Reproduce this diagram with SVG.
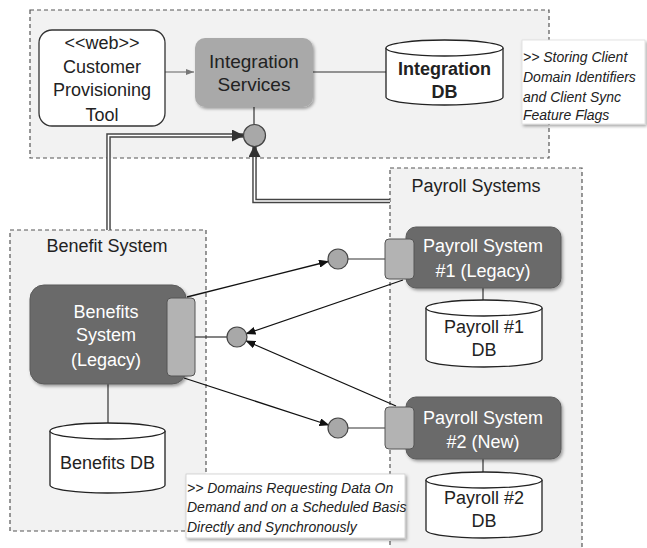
<svg xmlns="http://www.w3.org/2000/svg" width="647" height="548" viewBox="0 0 647 548">
<style>
text{font-family:"Liberation Sans",Arial,sans-serif;font-size:18px;text-anchor:middle;fill:#222}
.cont{fill:#f2f2f2;stroke:#555;stroke-width:1.2;stroke-dasharray:4,3}
.dark{fill:#6b6b6b;stroke:#5a5a5a;stroke-width:1}
.wt{fill:#fff}
.port{fill:#b3b3b3;stroke:#555;stroke-width:1}
.circ{fill:#a8a8a8;stroke:#444;stroke-width:1.2}
.db{fill:#fff;stroke:#222;stroke-width:1.3}
.note{font-style:italic;font-size:14px;text-anchor:start}
.ln{stroke:#333;stroke-width:1.2;fill:none}
.ar{stroke:#111;stroke-width:1.3;fill:none;marker-end:url(#ah)}
.dbl{stroke:#444;stroke-width:4.5;fill:none}
.dbi{stroke:#fff;stroke-width:1.6;fill:none}
</style>
<defs>
<marker id="ah" markerWidth="10" markerHeight="8" refX="9" refY="4" orient="auto" markerUnits="userSpaceOnUse"><path d="M0,0 L10,4 L0,8 Z" fill="#111"/></marker>
<marker id="ahd" markerWidth="12" markerHeight="12" refX="11" refY="6" orient="auto" markerUnits="userSpaceOnUse"><path d="M0,0 L12,6 L0,12 Z" fill="#333"/></marker>
<marker id="ahs" markerWidth="8" markerHeight="6" refX="8" refY="3" orient="auto" markerUnits="userSpaceOnUse"><path d="M0,0 L8,3 L0,6 Z" fill="#777"/></marker>
<filter id="sh" x="-10%" y="-10%" width="125%" height="130%"><feDropShadow dx="1.5" dy="2" stdDeviation="1.5" flood-color="#000" flood-opacity="0.35"/></filter>
</defs>

<g id="containers">
<rect id="integration-container" class="cont" x="30" y="10" width="519" height="148"/>
<g id="payroll-systems"><rect class="cont" x="390" y="168" width="192" height="385"/><text x="476" y="192">Payroll Systems</text></g>
<g id="benefit-system"><rect class="cont" x="10" y="230" width="196" height="301"/><text x="107" y="252">Benefit System</text></g>
</g>

<g id="connectors">
<line class="ln" x1="165" y1="72" x2="194" y2="72" stroke="#777" style="stroke:#777;marker-end:url(#ahs)"/>
<line class="ln" x1="254" y1="107" x2="254" y2="124"/>
<line class="ln" x1="313" y1="72" x2="386" y2="72"/>
<line class="ln" x1="195" y1="337" x2="227" y2="337"/>
<line class="ln" x1="348" y1="259" x2="385" y2="259"/>
<line class="ln" x1="348" y1="428" x2="385" y2="428"/>
<line class="ln" x1="108" y1="384" x2="108" y2="431"/>
<line class="ln" x1="483" y1="288" x2="483" y2="308"/>
<line class="ln" x1="483" y1="459" x2="483" y2="480"/>
<path class="dbl" d="M108.5,230 V135.5 H243" marker-end="url(#ahd)"/>
<path class="dbi" d="M108.5,230 V135.5 H232"/>
<path class="dbl" d="M390,201 H254.5 V146" marker-end="url(#ahd)"/>
<path class="dbi" d="M390,201 H254.5 V157"/>
<line class="ar" x1="187" y1="297" x2="328" y2="261.5"/>
<line class="ar" x1="403" y1="280" x2="246.5" y2="333.7"/>
<line class="ar" x1="396" y1="406" x2="246.3" y2="341"/>
<line class="ar" x1="184" y1="378" x2="328.5" y2="425"/>
</g>

<g id="customer-provisioning-tool">
<rect x="39" y="30" width="126" height="96" rx="13" fill="#fff" stroke="#333" stroke-width="1.3"/>
<text x="102" y="49">&lt;&lt;web&gt;&gt;</text>
<text x="102" y="73">Customer</text>
<text x="102" y="96">Provisioning</text>
<text x="102" y="121">Tool</text>
</g>

<g id="integration-services">
<rect x="195" y="38" width="118" height="69" rx="10" fill="#a9a9a9" filter="url(#sh)"/>
<text x="254" y="68" style="font-size:19px">Integration</text>
<text x="254" y="91" style="font-size:19px">Services</text>
</g>

<g id="integration-circle"><circle class="circ" cx="254.5" cy="135.5" r="11"/></g>

<g id="integration-db">
<path class="db" d="M386,48 A58.5,8 0 0 1 503,48 V97 A58.5,8 0 0 1 386,97 Z"/>
<path class="db" d="M386,48 A58.5,8 0 0 0 503,48" fill="none"/>
<text x="444.5" y="75" font-weight="bold">Integration</text>
<text x="444.5" y="98" font-weight="bold">DB</text>
</g>

<g id="note-storing">
<rect x="522" y="40" width="123" height="84" fill="#fff" stroke="#ddd" stroke-width="0.8" filter="url(#sh)"/>
<text class="note" x="523" y="62">&gt;&gt; Storing Client</text>
<text class="note" x="523" y="82">Domain Identifiers</text>
<text class="note" x="523" y="102">and Client Sync</text>
<text class="note" x="523" y="120">Feature Flags</text>
</g>

<g id="benefits-system">
<rect class="dark" x="30" y="285" width="156" height="99" rx="14" filter="url(#sh)"/>
<rect class="port" x="167" y="298" width="28" height="78" rx="4"/>
<text class="wt" x="106" y="318">Benefits</text>
<text class="wt" x="106" y="341">System</text>
<text class="wt" x="106" y="366">(Legacy)</text>
</g>

<g id="benefits-circle"><circle class="circ" cx="237" cy="337" r="10"/></g>

<g id="benefits-db">
<path class="db" d="M50,431 A57.5,8 0 0 1 165,431 V485 A57.5,8 0 0 1 50,485 Z"/>
<path class="db" d="M50,431 A57.5,8 0 0 0 165,431" fill="none"/>
<text x="107.5" y="469">Benefits DB</text>
</g>

<g id="payroll-system-1">
<rect class="dark" x="406" y="227" width="155" height="61" rx="10" filter="url(#sh)"/>
<rect class="port" x="385" y="239" width="29" height="40" rx="4"/>
<text class="wt" x="483" y="252">Payroll System</text>
<text class="wt" x="483" y="277">#1 (Legacy)</text>
</g>
<g id="payroll1-circle"><circle class="circ" cx="338" cy="259" r="10"/></g>

<g id="payroll1-db">
<path class="db" d="M426,308 A58,8 0 0 1 542,308 V359 A58,8 0 0 1 426,359 Z"/>
<path class="db" d="M426,308 A58,8 0 0 0 542,308" fill="none"/>
<text x="484" y="333">Payroll #1</text>
<text x="484" y="356">DB</text>
</g>

<g id="payroll-system-2">
<rect class="dark" x="406" y="397" width="155" height="62" rx="10" filter="url(#sh)"/>
<rect class="port" x="385" y="407" width="29" height="42" rx="4"/>
<text class="wt" x="483" y="424">Payroll System</text>
<text class="wt" x="483" y="448">#2 (New)</text>
</g>
<g id="payroll2-circle"><circle class="circ" cx="338" cy="428" r="10"/></g>

<g id="payroll2-db">
<path class="db" d="M426,480 A58,8 0 0 1 542,480 V530 A58,8 0 0 1 426,530 Z"/>
<path class="db" d="M426,480 A58,8 0 0 0 542,480" fill="none"/>
<text x="484" y="504">Payroll #2</text>
<text x="484" y="527">DB</text>
</g>

<g id="note-domains">
<rect x="186" y="474" width="219" height="64" fill="#fff" stroke="#ccc" stroke-width="0.8" filter="url(#sh)"/>
<text class="note" x="187" y="493">&gt;&gt; Domains Requesting Data On</text>
<text class="note" x="187" y="512">Demand and on a Scheduled Basis</text>
<text class="note" x="187" y="532">Directly and Synchronously</text>
</g>
</svg>
